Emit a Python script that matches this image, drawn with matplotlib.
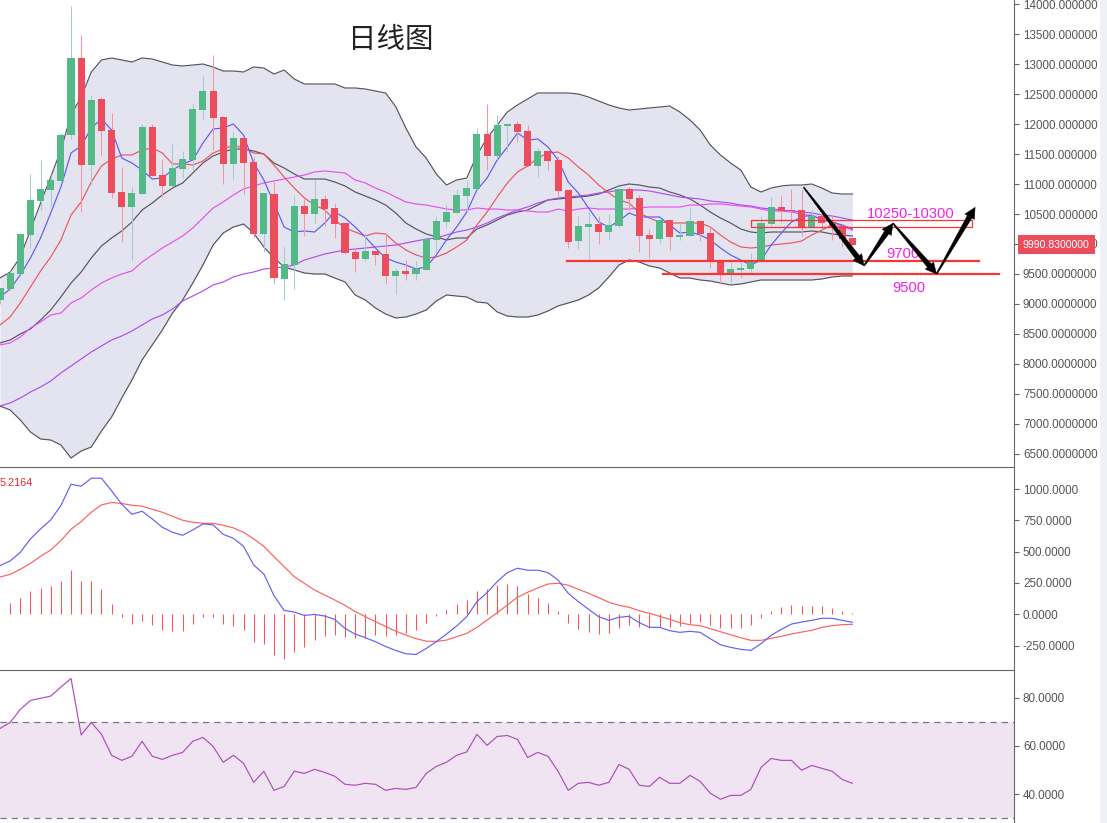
import numpy as np
import matplotlib
matplotlib.use('Agg')
import matplotlib.pyplot as plt
from matplotlib.patches import Polygon, Rectangle
from matplotlib.transforms import IdentityTransform

plt.rcParams['font.family'] = ['Liberation Sans', 'DejaVu Sans']

# daily candles
opens = [9067, 9256, 9500, 10150, 10717, 10900, 11050, 11817, 13100, 11317, 12417, 11900, 10867, 10617, 10833, 11950, 11150, 10967, 11250, 11400,
         12233, 12550, 12117, 11333, 11767, 11367, 10167, 10833, 9417, 9650, 10633, 10500, 10750, 10600, 10350, 9867, 9750, 9883, 9833, 9467,
         9550, 9500, 9567, 10067, 10367, 10517, 10800, 10917, 11833, 11467, 11967, 12000, 11883, 11300, 11550, 11400, 10900, 10050, 10283, 10333,
         10200, 10300, 10917, 10767, 10150, 10083, 10400, 10117, 10133, 10383, 10183, 9733, 9500, 9567, 9583, 9733, 10333, 10617, 10567, 10567,
         10283, 10467, 10367, 10300, 10100]
closes = [9261, 9511, 10167, 10733, 10917, 11067, 11817, 13100, 11317, 12400, 11883, 10850, 10617, 10850, 11950, 11133, 10967, 11267, 11417, 12250,
          12550, 12100, 11333, 11767, 11350, 10167, 10850, 9433, 9667, 10633, 10500, 10750, 10583, 10333, 9850, 9750, 9883, 9817, 9467, 9550,
          9500, 9583, 10083, 10383, 10533, 10817, 10933, 11833, 11467, 11983, 12000, 11867, 11300, 11550, 11383, 10883, 10033, 10300, 10333, 10200,
          10317, 10917, 10750, 10133, 10083, 10400, 10117, 10150, 10383, 10167, 9717, 9500, 9583, 9600, 9700, 10350, 10617, 10550, 10550, 10283,
          10467, 10350, 10283, 10083, 9990.83]
highs = [9270, 9556, 10178, 11167, 11400, 11150, 11845, 13967, 13483, 12483, 12445, 12183, 11283, 10950, 12000, 12000, 11417, 11667, 11550, 12350,
         12800, 13150, 12117, 11883, 11767, 11445, 10850, 11039, 9967, 10800, 10750, 11067, 10817, 10683, 10350, 9956, 10178, 9883, 10178, 9600,
         9733, 9717, 10117, 10467, 10667, 10917, 11050, 11933, 12333, 12150, 12000, 12050, 11983, 11600, 11550, 11467, 10900, 10467, 10533, 10467,
         10500, 10933, 10950, 10817, 10250, 10400, 10417, 10345, 10617, 10400, 10300, 9733, 9700, 9700, 9844, 10455, 10783, 10800, 10917, 10917,
         10567, 10467, 10483, 10317, 10100]
lows = [9000, 9233, 9500, 9933, 10567, 10633, 11050, 11750, 10533, 10983, 11483, 10767, 10033, 9733, 10833, 11133, 10800, 10967, 11100, 11211,
        12067, 11567, 11000, 11083, 10833, 10100, 9867, 9350, 9067, 9250, 10133, 10350, 10300, 10100, 9833, 9533, 9717, 9650, 9333, 9167,
        9400, 9400, 9567, 9867, 10283, 10517, 10533, 10917, 11233, 11417, 11533, 11700, 11300, 11117, 11233, 10800, 9933, 9917, 9750, 10000,
        10083, 10267, 10567, 9867, 9767, 10017, 9900, 10067, 10133, 10050, 9600, 9333, 9333, 9433, 9511, 9733, 10289, 10367, 10400, 10133,
        10283, 10233, 10067, 9944, 9983]

# bollinger bands and moving averages
boll_upper = [9433, 9533, 9783, 10233, 10683, 11117, 11567, 12150, 12450, 12867, 13067, 13100, 13067, 13033, 13100, 13083, 13033, 12983, 12967, 12983,
              13000, 12950, 12883, 12883, 12867, 12950, 12933, 12833, 12900, 12750, 12667, 12667, 12667, 12667, 12600, 12600, 12583, 12550, 12517, 12289,
              11933, 11617, 11433, 11167, 10983, 11067, 11100, 11483, 11767, 11983, 12200, 12317, 12417, 12517, 12517, 12517, 12517, 12500, 12450, 12383,
              12317, 12267, 12233, 12250, 12267, 12283, 12300, 12200, 12067, 11900, 11650, 11483, 11350, 11233, 10950, 10867, 10933, 10967, 10983, 10983,
              11000, 10933, 10850, 10833, 10833]
boll_mid = [8350, 8400, 8500, 8583, 8733, 8900, 9117, 9350, 9533, 9767, 9967, 10100, 10217, 10367, 10567, 10683, 10817, 10933, 11017, 11183,
            11350, 11467, 11533, 11583, 11583, 11550, 11500, 11350, 11267, 11167, 11083, 11083, 11083, 11033, 10967, 10867, 10800, 10733, 10650, 10517,
            10350, 10250, 10167, 10117, 10067, 10100, 10100, 10250, 10317, 10400, 10483, 10533, 10567, 10650, 10733, 10750, 10767, 10783, 10800, 10833,
            10900, 10967, 11000, 10983, 10950, 10933, 10867, 10817, 10750, 10650, 10533, 10433, 10350, 10250, 10200, 10183, 10200, 10200, 10200, 10200,
            10217, 10200, 10167, 10150, 10133]
boll_lower = [7300, 7233, 7067, 6867, 6750, 6733, 6650, 6433, 6550, 6617, 6883, 7117, 7433, 7733, 8067, 8317, 8567, 8850, 9067, 9350,
              9650, 9983, 10183, 10283, 10333, 10183, 9950, 9767, 9617, 9567, 9517, 9500, 9500, 9433, 9367, 9150, 9067, 8933, 8833, 8767,
              8783, 8833, 8900, 9050, 9150, 9133, 9117, 9033, 9017, 8867, 8800, 8783, 8783, 8817, 8883, 8967, 9017, 9067, 9150, 9267,
              9450, 9650, 9733, 9700, 9633, 9600, 9517, 9433, 9433, 9400, 9383, 9350, 9317, 9333, 9367, 9400, 9400, 9400, 9400, 9400,
              9400, 9417, 9450, 9467, 9467]
ma5 = [9117, 9250, 9483, 9767, 10100, 10517, 10950, 11517, 11633, 11933, 12083, 11900, 11433, 11350, 11233, 11083, 11100, 11233, 11333, 11400,
       11683, 11917, 11933, 12000, 11817, 11350, 11067, 10683, 10283, 10200, 10217, 10200, 10350, 10533, 10433, 10283, 10117, 9933, 9767, 9700,
       9650, 9583, 9617, 9817, 10067, 10283, 10533, 10900, 11100, 11400, 11617, 11850, 11733, 11750, 11617, 11400, 11033, 10850, 10600, 10367,
       10283, 10383, 10517, 10450, 10450, 10450, 10317, 10183, 10200, 10150, 10067, 9933, 9817, 9733, 9650, 9733, 9983, 10183, 10367, 10450,
       10483, 10400, 10367, 10317, 10250]
ma10 = [8650, 8783, 9017, 9283, 9550, 9783, 10067, 10483, 10700, 11033, 11300, 11417, 11483, 11483, 11567, 11600, 11517, 11333, 11333, 11317,
        11383, 11517, 11583, 11650, 11600, 11517, 11500, 11317, 11117, 10933, 10767, 10650, 10567, 10400, 10267, 10200, 10133, 10183, 10167, 10017,
        9900, 9817, 9767, 9783, 9850, 9950, 10067, 10317, 10533, 10783, 11017, 11200, 11300, 11433, 11517, 11533, 11433, 11283, 11150, 10983,
        10850, 10733, 10683, 10517, 10433, 10367, 10350, 10350, 10350, 10350, 10283, 10150, 10033, 9950, 9933, 9950, 9983, 10000, 10017, 10050,
        10150, 10233, 10317, 10283, 10267]
ma30 = [8317, 8350, 8450, 8600, 8700, 8817, 8850, 9017, 9100, 9233, 9350, 9433, 9500, 9550, 9700, 9817, 9933, 10033, 10133, 10267,
        10433, 10600, 10700, 10817, 10917, 10967, 11017, 11050, 11083, 11117, 11150, 11200, 11217, 11200, 11183, 11067, 11017, 10933, 10867, 10783,
        10700, 10667, 10650, 10617, 10583, 10567, 10567, 10600, 10583, 10583, 10567, 10567, 10550, 10533, 10533, 10583, 10550, 10583, 10600, 10583,
        10583, 10583, 10583, 10600, 10617, 10617, 10617, 10617, 10650, 10650, 10667, 10667, 10650, 10633, 10617, 10583, 10550, 10550, 10533, 10500,
        10467, 10417, 10367, 10300, 10233]
ma60 = [7300, 7350, 7433, 7533, 7617, 7717, 7850, 7967, 8083, 8200, 8300, 8400, 8467, 8550, 8650, 8750, 8817, 8917, 9050, 9133,
        9217, 9317, 9367, 9450, 9500, 9533, 9583, 9600, 9617, 9650, 9733, 9783, 9833, 9867, 9900, 9917, 9933, 9950, 9967, 9983,
        10017, 10050, 10083, 10100, 10150, 10200, 10233, 10283, 10350, 10433, 10500, 10567, 10617, 10683, 10733, 10767, 10783, 10800, 10817, 10850,
        10867, 10900, 10900, 10900, 10883, 10850, 10817, 10783, 10767, 10750, 10717, 10700, 10683, 10650, 10633, 10600, 10583, 10567, 10550, 10533,
        10517, 10483, 10467, 10433, 10400]

# macd panel
dif = [389, 426, 495, 602, 682, 754, 869, 1039, 1023, 1087, 1087, 986, 879, 799, 823, 762, 695, 655, 631, 674,
       722, 714, 639, 607, 543, 394, 322, 149, 31, 18, -9, -1, -14, -41, -113, -158, -187, -219, -257, -289,
       -315, -321, -273, -219, -158, -94, -19, 101, 173, 261, 333, 368, 352, 352, 333, 274, 168, 101, 40, -19,
       -48, -24, -16, -67, -104, -104, -131, -144, -136, -144, -195, -243, -264, -280, -288, -235, -168, -120, -78, -62,
       -48, -32, -32, -48, -64]
dea = [298, 319, 359, 407, 463, 514, 589, 679, 741, 815, 874, 893, 885, 871, 863, 839, 815, 783, 751, 735,
       727, 727, 711, 690, 655, 602, 543, 461, 381, 301, 247, 194, 154, 114, 71, 23, -19, -59, -97, -134,
       -166, -195, -214, -217, -206, -179, -152, -104, -46, 13, 74, 136, 176, 210, 242, 248, 232, 200, 168, 133,
       96, 72, 56, 29, 8, -16, -40, -67, -83, -91, -115, -139, -163, -187, -208, -208, -192, -176, -157, -142,
       -128, -104, -91, -83, -80]
macd_hist = [0, 93, 131, 187, 211, 227, 267, 355, 267, 267, 203, 83, -21, -77, -53, -85, -125, -133, -133, -77,
             -21, -21, -77, -93, -125, -221, -237, -325, -357, -301, -261, -205, -173, -165, -181, -189, -189, -165, -173, -165,
             -149, -125, -69, -11, 35, 83, 115, 187, 203, 235, 243, 227, 163, 131, 91, 27, -69, -117, -141, -157,
             -149, -109, -85, -101, -109, -101, -101, -93, -72, -61, -85, -109, -109, -109, -85, -29, 27, 59, 75, 67,
             67, 67, 51, 27, 8]

# rsi panel
rsi = [67.2, 69.7, 75.1, 78.8, 79.7, 80.6, 84.3, 87.9, 64.5, 69.7, 64.8, 56.1, 54.0, 55.7, 61.9, 55.7, 54.4, 56.1, 57.3, 61.9,
       63.5, 59.8, 53.2, 56.1, 52.8, 44.9, 49.5, 41.6, 43.2, 49.5, 48.6, 50.3, 49.0, 47.4, 44.1, 43.7, 44.5, 44.1, 41.6, 42.4,
       42.0, 42.8, 48.6, 51.5, 53.2, 56.1, 57.5, 64.8, 60.2, 63.9, 64.3, 62.7, 55.2, 57.3, 55.7, 49.5, 41.6, 44.5, 44.9, 43.7,
       44.9, 52.3, 50.3, 43.7, 43.2, 47.0, 44.5, 44.5, 47.8, 45.3, 40.4, 37.9, 39.5, 39.5, 42.0, 51.1, 54.8, 54.0, 54.0, 49.9,
       51.9, 50.7, 49.5, 46.1, 44.5]

price_ticks = [14000, 13500, 13000, 12500, 12000, 11500, 11000, 10500, 10000, 9500, 9000, 8500, 8000, 7500, 7000, 6500]
macd_ticks = [1000, 750, 500, 250, 0, -250]
rsi_ticks = [80, 60, 40]
last_price = 9990.83

W, H = 1107, 823
AXIS_X = 1014
BAR_PX = 10.147
UP, DOWN = '#53b987', '#eb4d5c'
UP_WICK, DOWN_WICK = '#a3cdca', '#f8969f'
GRAY = '#666666'
PINK = '#f020f0'


def panel(fig, top, bottom):
    return fig.add_axes([0, 1 - bottom / H, AXIS_X / W, (bottom - top) / H])


def style(ax, ylim, ticks, labels):
    ax.set_xlim(0, AXIS_X / BAR_PX)
    ax.set_ylim(*ylim)
    ax.set_xticks([])
    ax.yaxis.tick_right()
    ax.set_yticks(ticks)
    ax.set_yticklabels(labels)
    ax.tick_params(axis='y', length=3.6, width=0.8, pad=2.8, colors=GRAY, labelcolor='#555555', labelsize=8.4)
    for name in ['left', 'bottom', 'top']:
        ax.spines[name].set_visible(False)
    ax.spines['right'].set_color(GRAY)


def tapered_arrow(ax, x0, y0, x1, y1):
    # thin at the tail, thick at the head, sized in pixels
    p0, p1 = ax.transData.transform([(x0, y0), (x1, y1)])
    d = (p1 - p0) / np.hypot(*(p1 - p0))
    n = np.array([-d[1], d[0]])
    neck = p1 - d * 11
    pts = [p0 + n * 0.6, neck + n * 2.6, neck + n * 5.5, p1, neck - n * 5.5, neck - n * 2.6, p0 - n * 0.6]
    ax.add_patch(Polygon(pts, closed=True, facecolor='black', edgecolor='black', linewidth=0.3,
                         transform=IdentityTransform(), zorder=8, clip_on=False))


fig = plt.figure(figsize=(W / 100, H / 100), dpi=100)
ax_main = panel(fig, 0, 467)
ax_macd = panel(fig, 467, 670)
ax_rsi = panel(fig, 670, 823)

bars = np.arange(len(closes))

# main panel
price_labels = ['{:.6f}'.format(v) if v >= 10000 else '{:.7f}'.format(v) for v in price_ticks]
style(ax_main, (6283.3, 14066.7), price_ticks, price_labels)
ax_main.fill_between(bars, boll_lower, boll_upper, color='#e4e4f0', linewidth=0, zorder=1)
for series, colour in [(boll_upper, '#55555f'), (boll_mid, '#55555f'), (boll_lower, '#55555f'),
                       (ma60, '#b04cf5'), (ma30, '#e850f0'), (ma10, '#ee5560'), (ma5, '#5c5cf2')]:
    ax_main.plot(bars, series, color=colour, linewidth=0.85, zorder=2)

o, c, hi, lo = map(np.array, (opens, closes, highs, lows))
up = c >= o
ax_main.vlines(bars[up], lo[up], hi[up], color=UP_WICK, linewidth=0.75, zorder=3, snap=True)
ax_main.vlines(bars[~up], lo[~up], hi[~up], color=DOWN_WICK, linewidth=0.75, zorder=3, snap=True)
ax_main.bar(bars, np.abs(c - o), bottom=np.minimum(o, c), width=0.7,
            color=[UP if u else DOWN for u in up], linewidth=0, zorder=4)

# hand drawn levels and arrows
ax_main.plot([55.9, 96.5], [9722, 9722], color='#f93636', linewidth=1.6, zorder=6)
ax_main.plot([65.3, 98.5], [9500, 9500], color='#f93636', linewidth=1.6, zorder=6)
ax_main.add_patch(Rectangle((74.0, 10290), 21.8, 115, fill=False, edgecolor='#f93636', linewidth=0.9, zorder=6))
ax_main.text(38.5, 13400, '日线图', family=['Noto Sans CJK SC', 'DejaVu Sans'], fontsize=20.5, color='#222222',
             ha='center', va='center')
ax_main.text(89.8, 10500, '10250-10300', fontsize=10.6, color=PINK, ha='center', va='center', zorder=7)
ax_main.text(89.0, 9833, '9700', fontsize=10.6, color=PINK, ha='center', va='center', zorder=7)
ax_main.text(89.6, 9267, '9500', fontsize=10.6, color=PINK, ha='center', va='center', zorder=7)
tapered_arrow(ax_main, 79.2, 10945, 85.15, 9638)
tapered_arrow(ax_main, 85.15, 9638, 88.0, 10345)
tapered_arrow(ax_main, 88.0, 10345, 92.3, 9500)
tapered_arrow(ax_main, 92.3, 9500, 96.1, 10612)

ax_main.text(1023 / AXIS_X, last_price, '{:.7f}'.format(last_price), transform=ax_main.get_yaxis_transform(),
             color='white', fontsize=7.6, ha='left', va='center', zorder=9, clip_on=False,
             bbox=dict(boxstyle='square,pad=0.45', facecolor=DOWN, edgecolor='none'))

# macd panel
style(ax_macd, (-444.9, 1176.5), macd_ticks, ['{:.4f}'.format(v) for v in macd_ticks])
ax_macd.spines['top'].set_visible(True)
ax_macd.spines['top'].set_color(GRAY)
ax_macd.vlines(bars, 0, macd_hist, color='#ff4f4f', linewidth=0.75, zorder=2, snap=True)
ax_macd.plot(bars, dea, color='#ff5f5f', linewidth=0.85, zorder=3)
ax_macd.plot(bars, dif, color='#6060f5', linewidth=0.85, zorder=3)
ax_macd.text(0, 1049, '5.2164', color='#e8262c', fontsize=7.8, ha='left', va='center')

# rsi panel
style(ax_rsi, (28.08, 91.4), rsi_ticks, ['{:.4f}'.format(v) for v in rsi_ticks])
ax_rsi.spines['top'].set_visible(True)
ax_rsi.spines['top'].set_color(GRAY)
ax_rsi.axhspan(30, 70, facecolor='#f0e4f2', linewidth=0, zorder=1)
for level in [30, 70]:
    ax_rsi.axhline(level, color='#7c7480', linewidth=0.9, dashes=(5, 4), zorder=2)
ax_rsi.plot(bars, rsi, color='#ab4fb5', linewidth=0.85, zorder=3)

# page strip on the right hides the end of the tick labels
fig.add_artist(Rectangle((1100 / W, 0), 7 / W, 1, transform=fig.transFigure, facecolor='#eef1f5',
                         edgecolor='none', zorder=10))

fig.savefig('out.png', dpi=100)
